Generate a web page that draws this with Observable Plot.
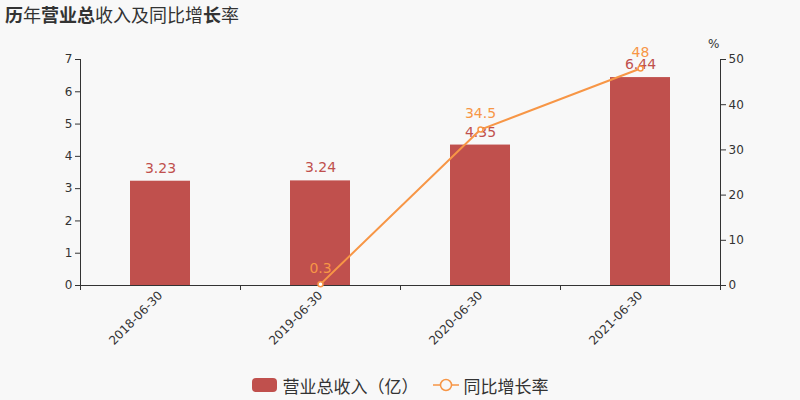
<!DOCTYPE html>
<html>
<head>
<meta charset="utf-8">
<script src="https://cdn.jsdelivr.net/npm/d3@7"></script>
<script src="https://cdn.jsdelivr.net/npm/@observablehq/plot@0.6"></script>
<style>
  html, body { margin: 0; padding: 0; background: #f8f8f8; }
  body { width: 800px; height: 400px; overflow: hidden; font-family: "DejaVu Sans", "Noto Sans CJK SC", sans-serif; }
  #title { height: 30px; line-height: 28px; padding-left: 5px; font-size: 18px; color: #333; font-family: "Noto Sans CJK SC", "DejaVu Sans", sans-serif; }
  #title b { font-weight: bold; }
  #chart { height: 340px; }
  #legend { height: 30px; display: flex; align-items: center; justify-content: center; font-family: "Noto Sans CJK SC", sans-serif; font-size: 17px; color: #333; }
  .item { display: flex; align-items: center; margin: 0 7px; }
  .sw { width: 25px; height: 14px; border-radius: 4px; background: #c0504d; margin-right: 6px; }
</style>
</head>
<body>
<div id="title"><b>历</b>年<b>营业总</b>收入及同比增<b>长</b>率</div>
<div id="chart"></div>
<div id="legend"></div>
<script>
const categories = ["2018-06-30", "2019-06-30", "2020-06-30", "2021-06-30"];
const revenue = [3.23, 3.24, 4.35, 6.44];
const growth = [null, 0.3, 34.5, 48];
const leftTicks = [0, 1, 2, 3, 4, 5, 6, 7];
const rightTicks = [0, 10, 20, 30, 40, 50];
const seriesNames = ["营业总收入（亿）", "同比增长率"];

const barColor = "#c0504d";
const lineColor = "#f79646";
const leftMax = 7, rightMax = 50;
const toLeft = v => v * leftMax / rightMax;

const bars = categories.map((c, i) => ({cat: c, value: revenue[i]}));
const pts = categories.map((c, i) => ({cat: c, g: growth[i]})).filter(d => d.g != null);

// axis lines (left, right, bottom) and x ticks at band boundaries
const axisLines = (index, scales, values, dims) => {
  const g = d3.create("svg:g").attr("stroke", "#333").attr("fill", "none");
  const x = scales.x;
  let bw = typeof x.bandwidth === "function" ? x.bandwidth() : x.bandwidth;
  if (!(bw >= 0)) bw = 0;
  const top = dims.marginTop, y0 = dims.height - dims.marginBottom;
  const left = dims.marginLeft, right = dims.width - dims.marginRight;
  g.append("line").attr("x1", left + 0.5).attr("x2", left + 0.5).attr("y1", top).attr("y2", y0 + 5);
  g.append("line").attr("x1", right + 0.5).attr("x2", right + 0.5).attr("y1", top).attr("y2", y0 + 5);
  g.append("line").attr("x1", left).attr("x2", right).attr("y1", y0 + 0.5).attr("y2", y0 + 0.5);
  for (let i = 1; i < categories.length; i++) {
    const bx = Math.round((x(categories[i - 1]) + x(categories[i])) / 2 + bw / 2) + 0.5;
    if (isFinite(bx)) g.append("line").attr("x1", bx).attr("x2", bx).attr("y1", y0).attr("y2", y0 + 5);
  }
  return g.node();
};

const plot = Plot.plot({
  width: 800,
  height: 340,
  marginTop: 29,
  marginBottom: 85,
  marginLeft: 80,
  marginRight: 80,
  style: { background: "transparent", fontFamily: "DejaVu Sans, sans-serif", fontSize: "12px", color: "#333" },
  x: { domain: categories, paddingInner: 0.625, paddingOuter: 0.3125 },
  y: { domain: [0, leftMax] },
  marks: [
    Plot.barY(bars, { x: "cat", y: "value", fill: barColor }),
    Plot.axisY({ ticks: leftTicks, tickFormat: d => String(d), tickSize: 5, tickPadding: 3, label: null, fontSize: 12 }),
    Plot.axisY({ anchor: "right", ticks: rightTicks.map(toLeft), tickFormat: d => String(Math.round(d * rightMax / leftMax)), tickSize: 5, tickPadding: 3, label: null, fontSize: 12 }),
    Plot.axisX({ tickSize: 0, tickRotate: -45, tickPadding: 8, label: null, fontSize: 12 }),
    axisLines,
    Plot.text(["%"], { frameAnchor: "top-right", dx: -1, dy: -20, fontSize: 12, fill: "#333" }),
    Plot.text(bars, { x: "cat", y: "value", text: d => d.value.toFixed(2), dy: -13, fill: barColor, fontSize: 14 }),
    Plot.line(pts, { x: "cat", y: d => toLeft(d.g), stroke: lineColor, strokeWidth: 2 }),
    Plot.dot(pts, { x: "cat", y: d => toLeft(d.g), r: 2.5, fill: "white", stroke: lineColor, strokeWidth: 1.5 }),
    Plot.text(pts, { x: "cat", y: d => toLeft(d.g), text: d => String(d.g), dy: -16, fill: lineColor, fontSize: 14 })
  ]
});
document.getElementById("chart").appendChild(plot);

// legend
const legend = document.getElementById("legend");
legend.innerHTML = `
  <div class="item"><div class="sw"></div><span>${seriesNames[0]}</span></div>
  <div class="item"><svg width="26" height="14" style="margin-right:5px"><line x1="0" x2="26" y1="7" y2="7" stroke="${lineColor}" stroke-width="1.5"/><circle cx="13" cy="7" r="5.5" fill="#f8f8f8" stroke="${lineColor}" stroke-width="1.5"/></svg><span>${seriesNames[1]}</span></div>`;
</script>
</body>
</html>
